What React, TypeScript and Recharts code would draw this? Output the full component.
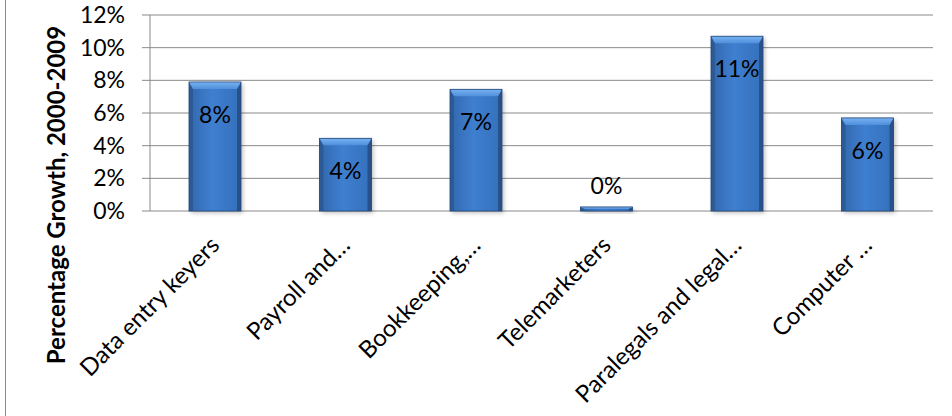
import React from 'react';
import { BarChart, Bar, XAxis, YAxis, CartesianGrid, LabelList, Label } from 'recharts';

// Growth by occupation, in percent
const categories = [
  'Data entry keyers',
  'Payroll and…',
  'Bookkeeping,…',
  'Telemarketers',
  'Paralegals and legal…',
  'Computer …',
];
const growth = [7.9, 4.45, 7.45, 0.25, 10.7, 5.7];
const yTicks = [0, 2, 4, 6, 8, 10, 12];
const boundaryTicks = [0, 1, 2, 3, 4, 5, 6];

const data = categories.map((name, i) => ({ name, growth: growth[i], pos: i + 0.5 }));

const FONT = 'Lato, "Open Sans", sans-serif';
const GRID = '#8a8a8a';

const BevelBar = (props: any) => {
  const { x, y, width, height } = props;
  if (!height || height <= 0) return null;
  const b = Math.min(7, height / 2, width / 4);
  const s = Math.min(4, width / 6);
  return (
    <g>
      <rect x={x + 2} y={y + 2} width={width} height={height} fill="rgba(0,0,0,0.25)" filter="url(#barShadow)" />
      <rect x={x} y={y} width={width} height={height} fill="url(#barBody)" />
      <polygon points={`${x},${y} ${x + s},${y + b} ${x + s},${y + height} ${x},${y + height}`} fill="#2b5a96" />
      <polygon points={`${x + width},${y} ${x + width - s},${y + b} ${x + width - s},${y + height} ${x + width},${y + height}`} fill="#28518a" />
      <polygon points={`${x},${y} ${x + width},${y} ${x + width - s},${y + b} ${x + s},${y + b}`} fill="url(#barTop)" />
      <rect x={x} y={y} width={width} height={height} fill="none" stroke="#24497c" strokeWidth={0.8} />
    </g>
  );
};

const CategoryTick = (props: any) => {
  const { x, y, payload } = props;
  const ax = x - 1;
  const ay = y + 29;
  return (
    <text
      x={ax}
      y={ay}
      transform={`rotate(-45, ${ax}, ${ay})`}
      textAnchor="end"
      dominantBaseline="central"
      fontFamily={FONT}
      fontSize={24}
      fill="#000"
    >
      {payload.value}
    </text>
  );
};

const ValueLabel = (props: any) => {
  const { x, y, width, height, value } = props;
  const inside = height > 30;
  const cy = inside ? y + 32 : y - 22;
  return (
    <text x={x + width / 2} y={cy} textAnchor="middle" dominantBaseline="central" fontFamily={FONT} fontSize={23} fill="#000">
      {`${Math.round(value)}%`}
    </text>
  );
};

const YTitle = (props: any) => {
  const { viewBox } = props;
  const cx = viewBox.x + 65;
  const cy = viewBox.y + viewBox.height / 2 + 82;
  return (
    <text
      x={cx}
      y={cy}
      transform={`rotate(-90, ${cx}, ${cy})`}
      textAnchor="middle"
      fontFamily={FONT}
      fontWeight="bold"
      fontSize={24}
      fill="#000"
    >
      Percentage Growth, 2000-2009
    </text>
  );
};

export default function App() {
  return (
    <div style={{ position: 'absolute', left: 0, top: 0, width: 952, height: 416, background: '#fff' }}>
      <div style={{ position: 'absolute', left: 5, top: 0, width: 0, height: 416, borderLeft: '1px solid #8a8a8a' }} />
      <BarChart width={952} height={416} data={data} margin={{ top: 15, right: 19, left: 0, bottom: 0 }}>
        <defs>
          <linearGradient id="barBody" x1="0" y1="0" x2="1" y2="0">
            <stop offset="0%" stopColor="#3268ad" />
            <stop offset="45%" stopColor="#3f7fd0" />
            <stop offset="100%" stopColor="#3470bb" />
          </linearGradient>
          <linearGradient id="barTop" x1="0" y1="0" x2="0" y2="1">
            <stop offset="0%" stopColor="#78b2f0" />
            <stop offset="100%" stopColor="#4f8fdc" />
          </linearGradient>
          <filter id="barShadow" x="-20%" y="-20%" width="140%" height="140%">
            <feGaussianBlur stdDeviation="2" />
          </filter>
        </defs>
        <CartesianGrid xAxisId="cat" vertical={false} stroke={GRID} strokeWidth={1} />
        <XAxis
          xAxisId="bounds"
          type="number"
          dataKey="pos"
          domain={[0, 6]}
          ticks={boundaryTicks}
          height={0}
          stroke={GRID}
          tickSize={7}
          tick={() => <g />}
        />
        <XAxis
          xAxisId="cat"
          dataKey="name"
          height={205}
          axisLine={false}
          tickLine={false}
          tickSize={0}
          tickMargin={0}
          interval={0}
          tick={<CategoryTick />}
        />
        <YAxis
          domain={[0, 12]}
          ticks={yTicks}
          width={150}
          stroke={GRID}
          tickSize={8}
          tickMargin={17}
          tickFormatter={(v: number) => `${v}%`}
          tick={{ fill: '#000', fontSize: 23, fontFamily: FONT }}
        >
          <Label content={<YTitle />} />
        </YAxis>
        <Bar xAxisId="cat" dataKey="growth" barSize={52} shape={<BevelBar />} isAnimationActive={false}>
          <LabelList dataKey="growth" content={<ValueLabel />} />
        </Bar>
      </BarChart>
    </div>
  );
}
